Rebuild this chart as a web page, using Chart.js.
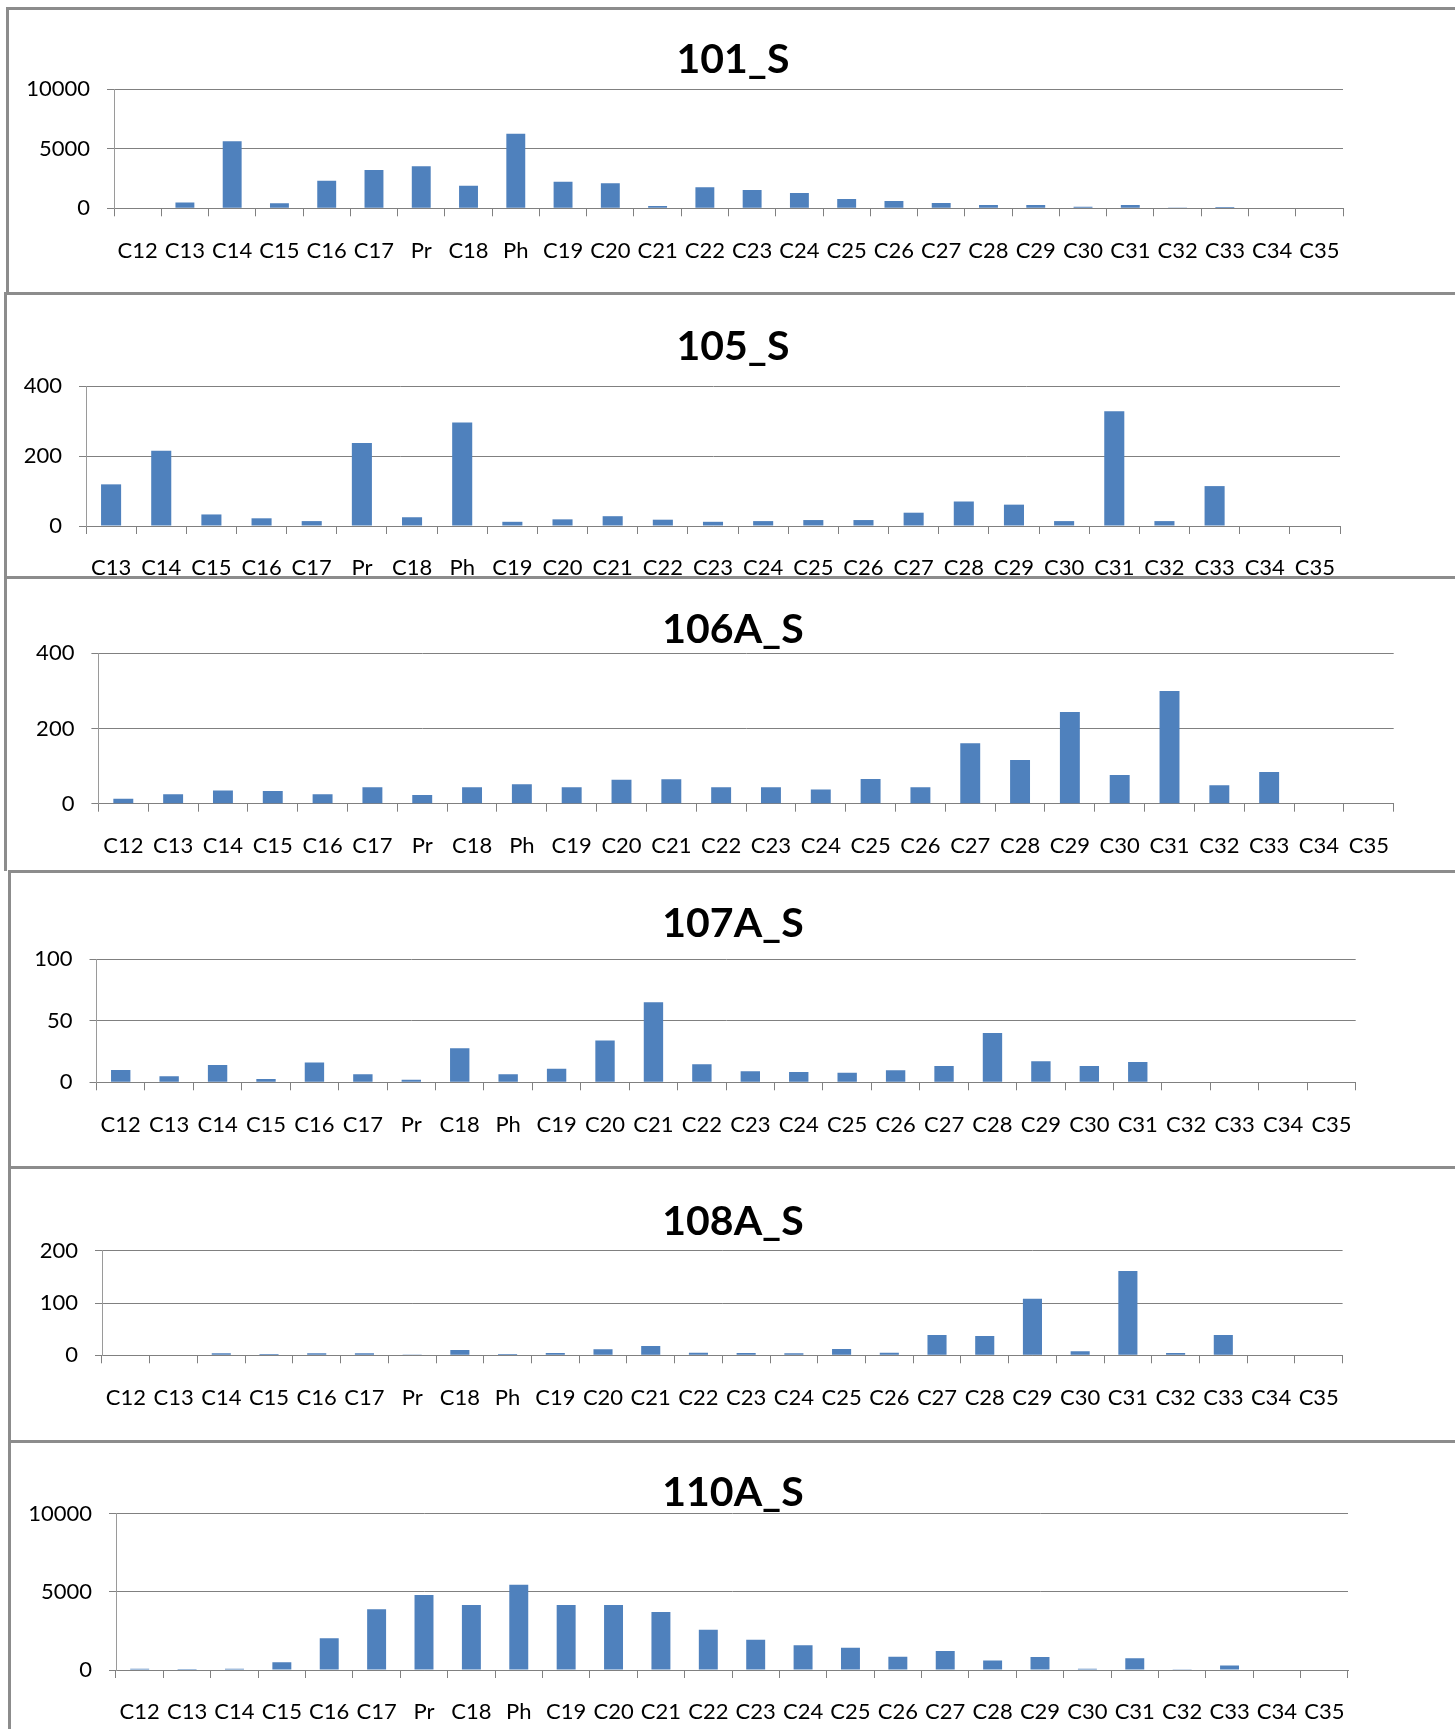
<!DOCTYPE html>
<html>
<head>
<meta charset="utf-8">
<script src="https://cdn.jsdelivr.net/npm/chart.js@4.4.0/dist/chart.umd.min.js"></script>
<style>
  html, body { margin: 0; padding: 0; background: #fff; }
  body { width: 1455px; height: 1729px; overflow: hidden; position: relative; }
  canvas { position: absolute; left: 0; }
  .hline, .vline { position: absolute; background: #8c8c8c; z-index: 2; }
  .hline { height: 3px; right: 0; }
  .vline { width: 3px; }
</style>
</head>
<body>
<script>
// --- data ---
const labelsAll = ['C12', 'C13', 'C14', 'C15', 'C16', 'C17', 'Pr', 'C18', 'Ph', 'C19', 'C20', 'C21', 'C22',
  'C23', 'C24', 'C25', 'C26', 'C27', 'C28', 'C29', 'C30', 'C31', 'C32', 'C33', 'C34', 'C35'];
const labelsNoC12 = labelsAll.slice(1);

const values101S = [0, 480, 5630, 420, 2325, 3220, 3530, 1905, 6275, 2240, 2100, 200, 1765,
  1540, 1290, 785, 615, 450, 280, 280, 140, 280, 30, 100, 0, 0];
const values105S = [119, 215, 33, 22, 14, 237, 25, 296, 12, 19, 28, 18,
  12, 14, 17, 17, 38, 70, 61, 14, 328, 14, 114, 0, 0];
const values106AS = [13, 25, 35, 34, 25, 44, 23, 44, 52, 44, 64, 65, 44,
  44, 38, 66, 44, 161, 116, 244, 76, 300, 49, 84, 0, 0];
const values107AS = [10, 5, 14, 2.7, 16, 6.5, 2, 27.6, 6.5, 11, 34, 65, 14.6,
  9, 8.4, 7.8, 9.7, 13.2, 40, 17, 13.2, 16.5, 0, 0, 0, 0];
const values108AS = [0, 0, 3.8, 2.5, 3.8, 3.8, 1.3, 10, 2.5, 4.5, 11.5, 18, 5,
  4.5, 3.8, 12, 5, 39, 37, 108, 7.6, 161, 4.5, 39, 0, 0];
const values110AS = [85, 64, 85, 490, 2025, 3880, 4800, 4160, 5460, 4160, 4160, 3710, 2580,
  1940, 1580, 1430, 850, 1215, 600, 830, 85, 750, 40, 280, 0, 0];

const ticks101S = [0, 5000, 10000];
const ticks105S = [0, 200, 400];
const ticks106AS = [0, 200, 400];
const ticks107AS = [0, 50, 100];
const ticks108AS = [0, 100, 200];
const ticks110AS = [0, 5000, 10000];

const titles = ['101_S', '105_S', '106A_S', '107A_S', '108A_S', '110A_S'];

// --- layout (page pixels) ---
const CANVAS_W = 1466;
const panels = [
  { title: titles[0], labels: labelsAll,   values: values101S,  ticks: ticks101S,  top: 8,    bottom: 293,  left: 6, plot: { l: 114,  r: 1343,  t: 89.3,   b: 208.3 },  titleY: 60 },
  { title: titles[1], labels: labelsNoC12, values: values105S,  ticks: ticks105S,  top: 293,  bottom: 577,  left: 4, plot: { l: 86,   r: 1340,  t: 386,    b: 526 },    titleY: 346.5 },
  { title: titles[2], labels: labelsAll,   values: values106AS, ticks: ticks106AS, top: 577,  bottom: 871,  left: 4, plot: { l: 98.4, r: 1393.7, t: 653.3, b: 803.7 },  titleY: 630 },
  { title: titles[3], labels: labelsAll,   values: values107AS, ticks: ticks107AS, top: 871,  bottom: 1167, left: 8, plot: { l: 96.5, r: 1355.7, t: 959,   b: 1082.3 }, titleY: 923.5 },
  { title: titles[4], labels: labelsAll,   values: values108AS, ticks: ticks108AS, top: 1167, bottom: 1441, left: 8, plot: { l: 102,  r: 1342.6, t: 1250.7, b: 1355.3 }, titleY: 1221.3 },
  { title: titles[5], labels: labelsAll,   values: values110AS, ticks: ticks110AS, top: 1441, bottom: 1729, left: 8, plot: { l: 116,  r: 1348,  t: 1513.7, b: 1670 },   titleY: 1492.8 }
];

const BAR_COLOR = '#4F81BD';
const GRID_COLOR = '#808080';
const TITLE_SIZE = 41;

Chart.defaults.font.family = 'Lato, "Open Sans", sans-serif';
Chart.defaults.color = '#000';

function makePanel(p) {
  // frame lines
  const h = document.createElement('div');
  h.className = 'hline';
  h.style.top = (p.top - 1) + 'px';
  h.style.left = p.left + 'px';
  document.body.appendChild(h);
  const v = document.createElement('div');
  v.className = 'vline';
  v.style.left = p.left + 'px';
  v.style.top = p.top + 'px';
  v.style.height = (p.bottom - p.top) + 'px';
  document.body.appendChild(v);

  const canvas = document.createElement('canvas');
  const H = p.bottom - p.top;
  canvas.width = CANVAS_W; canvas.height = H;
  canvas.style.top = p.top + 'px';
  canvas.style.width = CANVAS_W + 'px'; canvas.style.height = H + 'px';
  document.body.appendChild(canvas);

  const padTop = (p.titleY - p.top) - TITLE_SIZE / 2;
  const padBottom = (p.plot.t - p.titleY) - TITLE_SIZE / 2;
  const step = p.ticks[1] - p.ticks[0];

  new Chart(canvas, {
    type: 'bar',
    data: {
      labels: p.labels,
      datasets: [{ data: p.values, backgroundColor: BAR_COLOR, barPercentage: 0.4, categoryPercentage: 1 }]
    },
    options: {
      responsive: false, animation: false, devicePixelRatio: 1,
      layout: { padding: 0 },
      plugins: {
        legend: { display: false }, tooltip: { enabled: false },
        title: {
          display: true, text: p.title, color: '#000',
          font: { size: TITLE_SIZE, weight: 'bold', lineHeight: 1 },
          padding: { top: padTop, bottom: padBottom }
        }
      },
      scales: {
        x: {
          grid: { offset: true, drawOnChartArea: false, drawTicks: true, tickLength: 8, color: GRID_COLOR, lineWidth: 1 },
          border: { display: true, color: GRID_COLOR, width: 1 },
          ticks: { autoSkip: false, maxRotation: 0, minRotation: 0, padding: 21, font: { size: 22 } },
          afterFit: s => { s.height = p.bottom - p.plot.b; }
        },
        y: {
          min: p.ticks[0], max: p.ticks[p.ticks.length - 1],
          grid: { color: GRID_COLOR, lineWidth: 1, drawTicks: true, tickLength: 7 },
          border: { display: true, color: '#9a9a9a', width: 1 },
          ticks: { stepSize: step, padding: 17, font: { size: 22 }, callback: v => String(v) },
          afterBuildTicks: s => { s.ticks = p.ticks.map(v => ({ value: v })); },
          afterFit: s => { s.width = p.plot.l; }
        },
        // empty right box so the chart area stops where the original plot does
        yr: {
          position: 'right', display: true,
          grid: { display: false, drawTicks: false }, border: { display: false },
          ticks: { display: false },
          afterFit: s => { s.width = CANVAS_W - p.plot.r; }
        }
      }
    }
  });
}

panels.forEach(makePanel);
</script>
</body>
</html>
